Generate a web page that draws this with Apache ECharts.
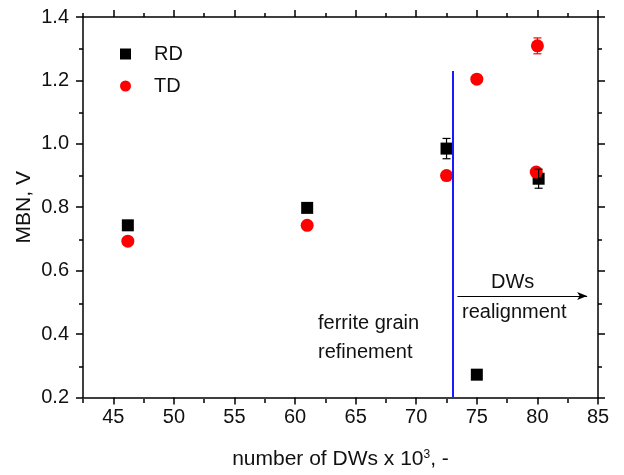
<!DOCTYPE html>
<html>
<head>
<meta charset="utf-8">
<script src="https://cdn.jsdelivr.net/npm/echarts@6/dist/echarts.min.js"></script>
<style>
  html, body { margin: 0; padding: 0; background: #fff; }
  #main { width: 624px; height: 475px; }
</style>
</head>
<body>
<div id="main"></div>
<script>
// 数据
var rdX = [46.2, 61.0, 72.5, 75.0, 80.1];
var rdY = [0.743, 0.798, 0.985, 0.272, 0.890];
var rdErr = [0, 0.012, 0.032, 0, 0.030];
var tdX = [46.2, 61.0, 72.5, 75.0, 80.0, 79.9];
var tdY = [0.693, 0.743, 0.900, 1.204, 1.309, 0.911];
var tdErr = [0, 0, 0, 0.012, 0.025, 0.010];

var xMajor = [45, 50, 55, 60, 65, 70, 75, 80, 85];
var xMinor = [42.5, 47.5, 52.5, 57.5, 62.5, 67.5, 72.5, 77.5, 82.5];
var yMajor = [0.2, 0.4, 0.6, 0.8, 1.0, 1.2, 1.4];
var yMinor = [0.3, 0.5, 0.7, 0.9, 1.1, 1.3];

var boundaryX = 73.0;       // 竖线位置
var boundaryTop = 1.23;
var arrowFrom = [73.4, 0.52];
var arrowTo = [84.1, 0.52];

var myChart = echarts.init(document.getElementById('main'));
var font = 'Liberation Sans, Arial, sans-serif';

function pairs(xs, ys) {
    var out = [];
    for (var i = 0; i < xs.length; i++) out.push([xs[i], ys[i]]);
    return out;
}
function errData(xs, ys, es) {
    var out = [];
    for (var i = 0; i < xs.length; i++) {
        if (es[i] > 0) out.push([xs[i], ys[i] - es[i], ys[i] + es[i]]);
    }
    return out;
}
function renderErr(color) {
    return function (params, api) {
        var lo = api.coord([api.value(0), api.value(1)]);
        var hi = api.coord([api.value(0), api.value(2)]);
        var w = 4;
        var st = { stroke: color, lineWidth: 1.2 };
        return {
            type: 'group',
            children: [
                { type: 'line', shape: { x1: lo[0], y1: lo[1], x2: hi[0], y2: hi[1] }, style: st },
                { type: 'line', shape: { x1: lo[0] - w, y1: lo[1], x2: lo[0] + w, y2: lo[1] }, style: st },
                { type: 'line', shape: { x1: hi[0] - w, y1: hi[1], x2: hi[0] + w, y2: hi[1] }, style: st }
            ]
        };
    };
}

function xAx(grid, pos, ticks, len, showLine, showLabel) {
    return {
        type: 'value', gridIndex: grid, position: pos, min: 42.5, max: 85,
        axisLine: { show: showLine, onZero: false, lineStyle: { color: '#000', width: 1.5 } },
        axisTick: { show: true, inside: false, length: len, customValues: ticks, lineStyle: { color: '#000', width: 1.5 } },
        axisLabel: { show: showLabel, customValues: ticks, margin: 10, color: '#111', fontSize: 20, fontFamily: font },
        splitLine: { show: false }
    };
}
function yAx(grid, pos, ticks, len, showLine, showLabel) {
    return {
        type: 'value', gridIndex: grid, position: pos, min: 0.2, max: 1.4,
        axisLine: { show: showLine, onZero: false, lineStyle: { color: '#000', width: 1.5 } },
        axisTick: { show: true, inside: false, length: len, customValues: ticks, lineStyle: { color: '#000', width: 1.5 } },
        axisLabel: {
            show: showLabel, customValues: ticks, margin: 14, color: '#111', fontSize: 20, fontFamily: font,
            formatter: function (v) { return v.toFixed(1); }
        },
        splitLine: { show: false }
    };
}

var xMain = xAx(0, 'bottom', xMajor, 7, true, true);
xMain.name = 'number of DWs x 10{sup|3}, -';
xMain.nameLocation = 'middle';
xMain.nameGap = 51;
xMain.nameTextStyle = {
    color: '#111', fontSize: 21, fontFamily: font,
    rich: { sup: { fontSize: 12, fontFamily: font, color: '#111', verticalAlign: 'top', lineHeight: 22 } }
};
var yMain = yAx(0, 'left', yMajor, 7, true, true);
yMain.name = 'MBN, V';
yMain.nameLocation = 'middle';
yMain.nameGap = 48;
yMain.nameMoveOverlap = false;
yMain.nameTextStyle = { color: '#111', fontSize: 21, fontFamily: font };

var option = {
    animation: false,
    backgroundColor: '#fff',
    grid: [
        { left: 83, right: 26, top: 17, bottom: 76 },
        { left: 83, right: 26, top: 17, bottom: 76 }
    ],
    legend: {
        orient: 'vertical', left: 115, top: 39, itemGap: 12,
        itemWidth: 11, itemHeight: 11,
        textStyle: { fontSize: 20, fontFamily: font, color: '#111', padding: [0, 0, 0, 18] },
        data: ['RD', 'TD']
    },
    xAxis: [
        xMain,
        xAx(0, 'top', xMajor, 7, true, false),
        xAx(1, 'bottom', xMinor, 4, false, false),
        xAx(1, 'top', xMinor, 4, false, false)
    ],
    yAxis: [
        yMain,
        yAx(0, 'right', yMajor, 7, true, false),
        yAx(1, 'left', yMinor, 4, false, false),
        yAx(1, 'right', yMinor, 4, false, false)
    ],
    graphic: [
        { type: 'text', left: 318, top: 309, style: { text: 'ferrite grain\nrefinement', fontSize: 20, lineHeight: 29, fontFamily: font, fill: '#111' } },
        { type: 'text', left: 491, top: 272, style: { text: 'DWs', fontSize: 20, fontFamily: font, fill: '#111' } },
        { type: 'text', left: 462, top: 302, style: { text: 'realignment', fontSize: 20, fontFamily: font, fill: '#111' } }
    ],
    series: [
        {
            name: 'RD', type: 'scatter', xAxisIndex: 0, yAxisIndex: 0,
            symbol: 'rect', symbolSize: 12, itemStyle: { color: '#000', opacity: 1 }, z: 3,
            data: pairs(rdX, rdY),
            markLine: {
                silent: true, animation: false, label: { show: false },
                data: [
                    [{ coord: [boundaryX, 0.2], symbol: 'none', lineStyle: { color: '#1a1aff', width: 2, type: 'solid' } },
                     { coord: [boundaryX, boundaryTop], symbol: 'none' }],
                    [{ coord: arrowFrom, symbol: 'none', lineStyle: { color: '#000', width: 1.2, type: 'solid' } },
                     { coord: arrowTo, symbol: 'arrow', symbolSize: [6, 10] }]
                ]
            }
        },
        {
            name: 'TD', type: 'scatter', xAxisIndex: 0, yAxisIndex: 0,
            symbol: 'circle', symbolSize: 13, itemStyle: { color: '#ff0000', opacity: 1 }, z: 4,
            data: pairs(tdX, tdY)
        },
        {
            name: 'TD err', type: 'custom', xAxisIndex: 0, yAxisIndex: 0, z: 5,
            renderItem: renderErr('#ff0000'), data: errData(tdX, tdY, tdErr)
        },
        {
            name: 'RD err', type: 'custom', xAxisIndex: 0, yAxisIndex: 0, z: 6,
            renderItem: renderErr('#000'), data: errData(rdX, rdY, rdErr)
        }
    ]
};
myChart.setOption(option);
</script>
</body>
</html>
